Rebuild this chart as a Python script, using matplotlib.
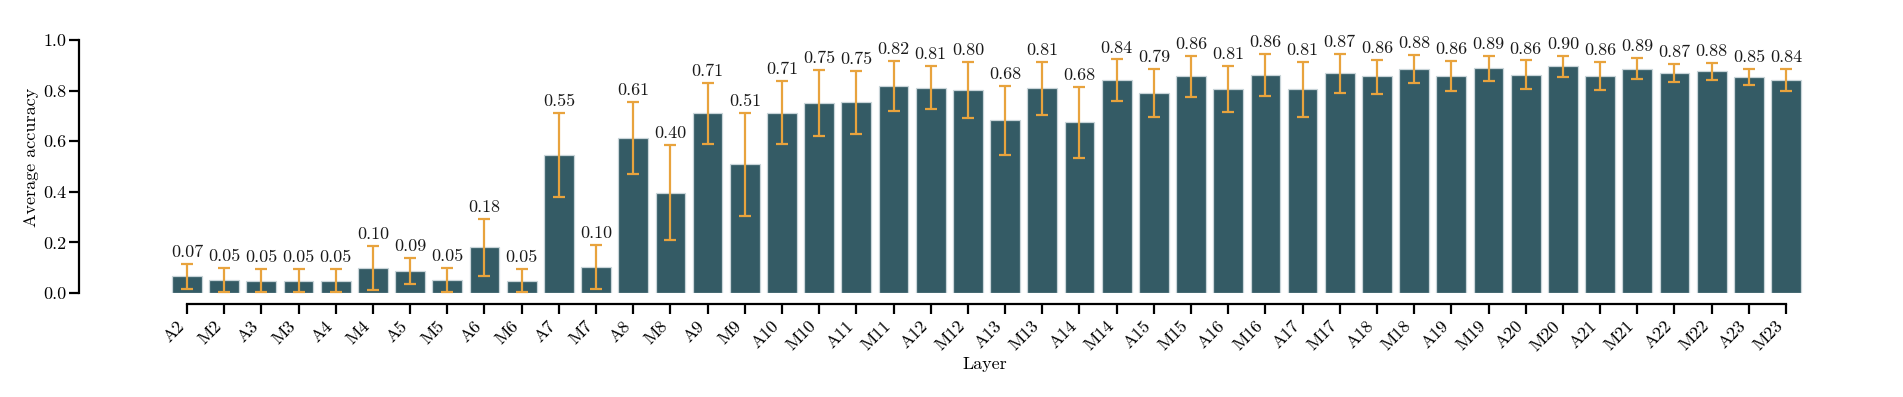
import matplotlib
matplotlib.use("Agg")
import matplotlib.pyplot as plt
import numpy as np

plt.rcParams['font.family'] = 'serif'
plt.rcParams['font.serif'] = ['cmr10', 'DejaVu Serif']
plt.rcParams['mathtext.fontset'] = 'cm'
plt.rcParams['axes.formatter.use_mathtext'] = True

layers = ['A2', 'M2', 'A3', 'M3', 'A4', 'M4', 'A5', 'M5', 'A6', 'M6', 'A7', 'M7',
          'A8', 'M8', 'A9', 'M9', 'A10', 'M10', 'A11', 'M11', 'A12', 'M12',
          'A13', 'M13', 'A14', 'M14', 'A15', 'M15', 'A16', 'M16', 'A17', 'M17',
          'A18', 'M18', 'A19', 'M19', 'A20', 'M20', 'A21', 'M21', 'A22', 'M22',
          'A23', 'M23']

mean_acc = [0.066, 0.050, 0.049, 0.049, 0.049, 0.100, 0.088, 0.052, 0.180, 0.049,
            0.547, 0.102, 0.612, 0.397, 0.710, 0.508, 0.713, 0.750, 0.753, 0.818,
            0.811, 0.802, 0.683, 0.809, 0.676, 0.840, 0.791, 0.857, 0.806, 0.862,
            0.806, 0.868, 0.856, 0.884, 0.858, 0.888, 0.862, 0.896, 0.857, 0.887,
            0.870, 0.876, 0.852, 0.840]

ci_low = [0.016, 0.003, 0.003, 0.003, 0.003, 0.011, 0.036, 0.005, 0.068, 0.002,
          0.381, 0.017, 0.469, 0.208, 0.589, 0.305, 0.588, 0.619, 0.628, 0.719,
          0.727, 0.690, 0.545, 0.704, 0.535, 0.757, 0.697, 0.775, 0.714, 0.779,
          0.697, 0.792, 0.787, 0.829, 0.800, 0.838, 0.805, 0.852, 0.801, 0.845,
          0.834, 0.842, 0.821, 0.797]

ci_high = [0.116, 0.099, 0.096, 0.096, 0.096, 0.187, 0.140, 0.100, 0.292, 0.096,
           0.713, 0.190, 0.756, 0.585, 0.831, 0.710, 0.839, 0.880, 0.876, 0.917,
           0.896, 0.913, 0.818, 0.913, 0.813, 0.923, 0.884, 0.938, 0.896, 0.945,
           0.912, 0.946, 0.921, 0.939, 0.918, 0.938, 0.919, 0.937, 0.913, 0.929,
           0.906, 0.910, 0.885, 0.884]

bar_color = '#345B65'
err_color = '#E8A33D'

W, H = 1903, 397
fig = plt.figure(figsize=(W / 100, H / 100), dpi=100)
left_px, right_px, top_px, bottom_px = 79, 1890, 21, 293
ax = fig.add_axes([left_px / W, (H - bottom_px) / H,
                   (right_px - left_px) / W, (bottom_px - top_px) / H])

x = np.arange(len(layers))
m = np.array(mean_acc)
lo = np.array(ci_low)
hi = np.array(ci_high)

ax.bar(x, m, width=0.8, color=bar_color, edgecolor='#c9d5d9', linewidth=0.9, zorder=2)
ax.errorbar(x, m, yerr=[m - lo, hi - m], fmt='none', ecolor=err_color,
            elinewidth=1.6, capsize=4, capthick=1.6, zorder=3)

for xi, h, v in zip(x, hi, m):
    ax.annotate(f'{v:.2f}', (xi, h), xytext=(0, 5), textcoords='offset points',
                ha='center', va='baseline', fontsize=13, color='#1a1a1a')

spacing = (1786 - 187) / 43.0
ax.set_xlim((left_px - 187) / spacing, (right_px - 187) / spacing)
ax.set_ylim(0, (bottom_px - top_px) / 253.0)

for s in ['top', 'right']:
    ax.spines[s].set_visible(False)
ax.spines['left'].set_bounds(0, 1)
ax.spines['bottom'].set_bounds(0, len(layers) - 1)
ax.spines['bottom'].set_position(('outward', 8))
for s in ['left', 'bottom']:
    ax.spines[s].set_linewidth(1.6)

ax.set_yticks([0, 0.2, 0.4, 0.6, 0.8, 1.0])
ax.set_yticklabels(['0.0', '0.2', '0.4', '0.6', '0.8', '1.0'])
ax.set_xticks(x)
ax.set_xticklabels(layers, rotation=45, ha='right')
ax.tick_params(axis='both', which='major', length=7.2, width=1.6, labelsize=13, pad=2)
ax.tick_params(axis='x', pad=3)

ax.set_ylabel('Average accuracy', fontsize=13)
ax.yaxis.set_label_coords((39 - left_px) / (right_px - left_px), 0.5)
ax.set_xlabel('Layer', fontsize=13)
ax.xaxis.set_label_coords(0.5, (bottom_px - 357) / (bottom_px - top_px))
ax.xaxis.label.set_va('top')

fig.savefig('out.png', dpi=100)
